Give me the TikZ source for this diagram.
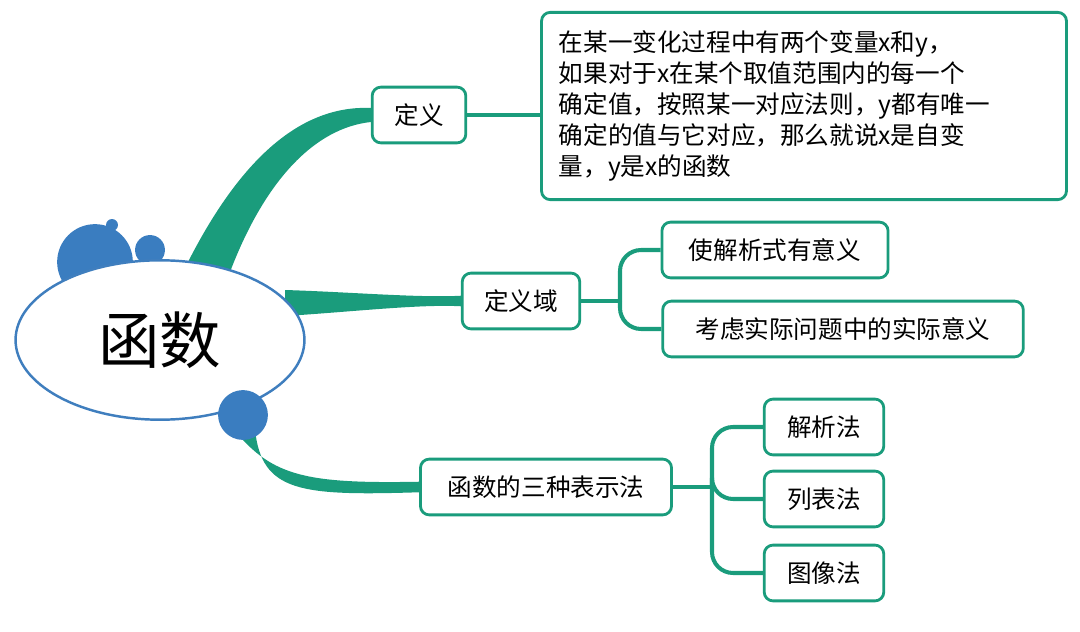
\documentclass[tikz,border=0pt]{standalone}
\usepackage{fontspec}
\setmainfont{Noto Sans CJK SC}
\usetikzlibrary{shapes.geometric}

\definecolor{branchgreen}{HTML}{1A9C7C}
\definecolor{dotblue}{HTML}{3A7DC0}
\definecolor{rimblue}{HTML}{3F7EBE}

\begin{document}
\begin{tikzpicture}[x=0.02cm,y=-0.02cm]
\tikzset{
  box/.style={rectangle, draw=branchgreen, line width=1.6pt, fill=white,
    rounded corners=5pt, inner sep=0pt, font=\fontsize{14pt}{17.6pt}\selectfont},
  dot/.style={circle, fill=dotblue, inner sep=0pt},
  bracket/.style={draw=branchgreen, line width=2.3pt, rounded corners=12pt},
  branch/.style={fill=branchgreen, draw=none}
}
\useasboundingbox (0,0) rectangle (1080,632);

% bubbles behind the ellipse
\node [dot, minimum size=76pt*0.567] (b1) at (95,262) {};
\node [dot, minimum size=30pt*0.567] (b2) at (150,250) {};
\node [dot, minimum size=12pt*0.567] (b3) at (112,225) {};

% boxes
\node [box, minimum width=94*0.567pt, minimum height=56*0.567pt] (def) at (419,115) {定义};
\node [box, minimum width=527*0.567pt, minimum height=188*0.567pt, text width=492*0.567pt, align=left] (deftext) at (804,106)
  {在某一变化过程中有两个变量x和y，\\如果对于x在某个取值范围内的每一个\\确定值，按照某一对应法则，y都有唯一\\确定的值与它对应，那么就说x是自变\\量，y是x的函数};
\node [box, minimum width=118*0.567pt, minimum height=56*0.567pt] (dom) at (521,301) {定义域};
\node [box, minimum width=227*0.567pt, minimum height=56*0.567pt] (dom1) at (775,250) {使解析式有意义};
\node [box, minimum width=362*0.567pt, minimum height=56*0.567pt] (dom2) at (843,329) {考虑实际问题中的实际意义};
\node [box, minimum width=252*0.567pt, minimum height=56*0.567pt] (rep) at (546,487) {函数的三种表示法};
\node [box, minimum width=120*0.567pt, minimum height=56*0.567pt] (rep1) at (824,427) {解析法};
\node [box, minimum width=120*0.567pt, minimum height=56*0.567pt] (rep2) at (824,499) {列表法};
\node [box, minimum width=120*0.567pt, minimum height=56*0.567pt] (rep3) at (824,573) {图像法};

% tapered branches
\path [branch] (188,262) .. controls (240,160) and (300,105) .. ([yshift=4]def.west)
  -- ([yshift=-4]def.west) .. controls (315,128) and (265,180) .. (230,272) -- cycle;
\path [branch] (285,290) .. controls (350,292) and (420,298) .. ([yshift=3]dom.west)
  -- ([yshift=-3]dom.west) .. controls (420,304) and (350,312) .. (285,316) -- cycle;
\path [branch] (230,425) .. controls (270,475) and (300,484) .. ([yshift=3]rep.west)
  -- ([yshift=-3]rep.west) .. controls (300,496) and (262,492) .. (255,430) -- cycle;

% central topic
\node [ellipse, draw=rimblue, line width=1.4pt, fill=white, minimum width=290*0.567pt,
  minimum height=160*0.567pt, font=\fontsize{35pt}{40pt}\selectfont] (fn) at (160,340) {函数};
\node [dot, minimum size=50pt*0.567] (b4) at (243,415) {};

% connectors
\draw [draw=branchgreen, line width=2.3pt] (def.east) -- (def.east -| deftext.west);
\coordinate (domfork) at (620,301);
\draw [bracket] (dom.east) -- (domfork);
\draw [bracket] (domfork) |- (dom1.west);
\draw [bracket] (domfork) |- (dom2.west);
\coordinate (repfork) at (712,487);
\draw [bracket] (rep.east) -- (repfork);
\draw [bracket] (repfork) |- (rep1.west);
\draw [bracket] (repfork) |- (rep2.west);
\draw [bracket] (repfork) |- (rep3.west);
\end{tikzpicture}
\end{document}
